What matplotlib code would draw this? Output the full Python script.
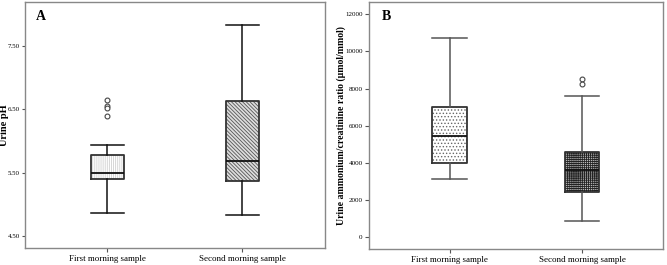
import matplotlib
matplotlib.use("Agg")
import matplotlib.pyplot as plt

plt.rcParams['font.family'] = ['Liberation Serif', 'DejaVu Serif']
plt.rcParams['hatch.linewidth'] = 0.6

categories = ["First morning sample", "Second morning sample"]

# Panel A: urine pH
ph_whislo = [4.86, 4.83]
ph_q1 = [5.40, 5.36]
ph_med = [5.49, 5.68]
ph_q3 = [5.78, 6.63]
ph_whishi = [5.94, 7.82]
ph_fliers = [[6.64, 6.55, 6.52, 6.39], []]
ph_ticks = [4.5, 5.5, 6.5, 7.5]
ph_ticklabels = ["4.50", "5.50", "6.50", "7.50"]

# Panel B: ammonium/creatinine ratio
nh_whislo = [3140, 890]
nh_q1 = [4000, 2440]
nh_med = [5450, 3600]
nh_q3 = [7030, 4570]
nh_whishi = [10710, 7590]
nh_fliers = [[], [8530, 8230]]
nh_ticks = [0, 2000, 4000, 6000, 8000, 10000, 12000]
nh_ticklabels = [str(t) for t in nh_ticks]

fig = plt.figure(figsize=(6.67, 2.65), dpi=100)
axA = fig.add_axes([0.0375, 0.064, 0.4495, 0.9285])
axB = fig.add_axes([0.553, 0.06, 0.441, 0.9325])


def make_stats(lo, q1, med, q3, hi, fl):
    return [dict(whislo=lo[i], q1=q1[i], med=med[i], q3=q3[i], whishi=hi[i],
                 fliers=fl[i], label=categories[i]) for i in range(len(lo))]


def draw(ax, stats, hatches, hatch_colors, faces, line_color, width):
    pos = [1, 2]
    # hatched fill
    for i, s in enumerate(stats):
        ax.bxp([s], positions=[pos[i]], widths=width, patch_artist=True,
               showcaps=False, showfliers=False,
               boxprops=dict(facecolor=faces[i], edgecolor=hatch_colors[i],
                             hatch=hatches[i], linewidth=0),
               whiskerprops=dict(linewidth=0), medianprops=dict(linewidth=0))
    # outlines
    ax.bxp(stats, positions=pos, widths=width, patch_artist=False,
           boxprops=dict(color='#333333', linewidth=1.3),
           whiskerprops=dict(color=line_color, linewidth=1.1),
           capprops=dict(color=line_color, linewidth=1.1),
           medianprops=dict(color='#111111', linewidth=1.3),
           flierprops=dict(marker='o', markersize=3.5, markerfacecolor='white',
                           markeredgecolor='#444444', markeredgewidth=0.8),
           capwidths=width)
    ax.set_xlim(0.39, 2.61)
    ax.set_xticks(pos)
    ax.set_xticklabels(categories, fontsize=6.5)
    for sp in ax.spines.values():
        sp.set_color('#888888')
        sp.set_linewidth(1.0)
    ax.tick_params(axis='both', direction='out', length=3, color='#555555', width=0.8)
    ax.tick_params(axis='y', labelsize=5, length=2.5, pad=1)
    ax.tick_params(axis='x', pad=2)


statsA = make_stats(ph_whislo, ph_q1, ph_med, ph_q3, ph_whishi, ph_fliers)
draw(axA, statsA, ['||||||||', '\\\\\\\\\\\\\\\\\\'], ['#d0d0d0', '#555555'],
     ['white', '#dddddd'], '#111111', 0.24)
axA.set_ylim(4.31, 8.19)
axA.set_yticks(ph_ticks)
axA.set_yticklabels(ph_ticklabels)
axA.text(-0.068, 0.5, "Urine pH", transform=axA.transAxes, rotation=90,
         fontsize=7.5, fontweight='bold', ha='center', va='center')
axA.text(0.035, 0.94, "A", transform=axA.transAxes, fontsize=10, fontweight='bold',
         va='center', ha='left')

statsB = make_stats(nh_whislo, nh_q1, nh_med, nh_q3, nh_whishi, nh_fliers)
draw(axB, statsB, ['.....', '++++++++'], ['#666666', '#222222'],
     ['white', '#bbbbbb'], '#555555', 0.26)
axB.set_ylim(-630, 12660)
axB.set_yticks(nh_ticks)
axB.set_yticklabels(nh_ticklabels)
axB.tick_params(axis='y', length=3, pad=1.5)
axB.text(-0.095, 0.5, "Urine ammonium/creatinine ratio (µmol/mmol)",
         transform=axB.transAxes, rotation=90, fontsize=7, fontweight='bold',
         ha='center', va='center')
axB.text(0.045, 0.94, "B", transform=axB.transAxes, fontsize=10, fontweight='bold',
         va='center', ha='left')

fig.savefig("out.png", dpi=100)
